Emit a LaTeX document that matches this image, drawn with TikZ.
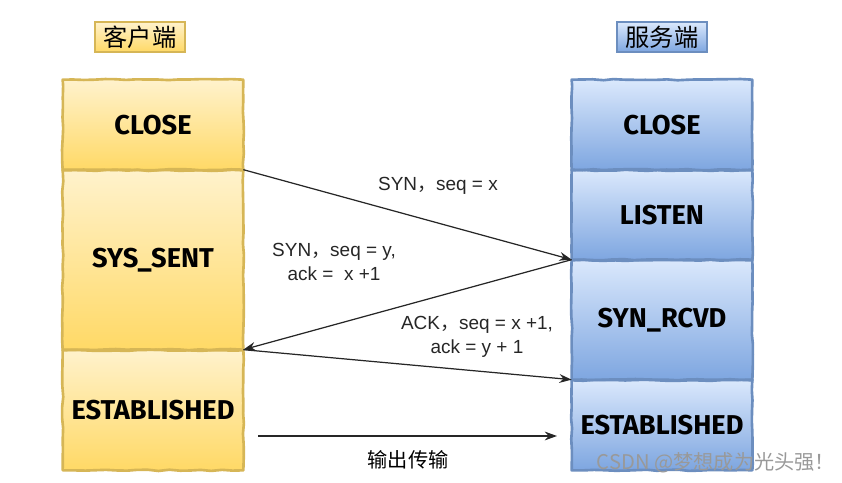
\documentclass[tikz,border=0pt]{standalone}
\usepackage{fontspec}
\setmainfont{Liberation Sans}
\newfontfamily\cjk{Noto Sans CJK SC}
\newfontfamily\statefont{Fira Sans}
\usetikzlibrary{arrows.meta,calc,decorations.pathmorphing}
\pgfmathsetseed{7}
\definecolor{ytop}{HTML}{FFF2CC}
\definecolor{ybot}{HTML}{FFD966}
\definecolor{yline}{HTML}{D6B656}
\definecolor{btop}{HTML}{DAE8FC}
\definecolor{bbot}{HTML}{7EA6E0}
\definecolor{bline}{HTML}{6C8EBF}
\tikzset{
  wobbly/.style={line width=1.5pt, line join=round, decorate, decoration={random steps, segment length=6pt, amplitude=0.35pt}},
  ystate/.style={top color=ytop, bottom color=ybot,
    minimum width=3.6cm, inner sep=0pt, font=\statefont\bfseries\fontsize{15.5}{18}\selectfont},
  bstate/.style={top color=btop, bottom color=bbot,
    minimum width=3.6cm, inner sep=0pt, font=\statefont\bfseries\fontsize{15.5}{18}\selectfont},
  ytitle/.style={draw=yline, line width=0.8pt, top color=ytop, bottom color=ybot,
    minimum width=1.8cm, minimum height=0.6cm, inner sep=0pt, font=\cjk\fontsize{13.8}{15}\selectfont},
  btitle/.style={draw=bline, line width=0.8pt, top color=btop, bottom color=bbot,
    minimum width=1.8cm, minimum height=0.6cm, inner sep=0pt, font=\cjk\fontsize{13.8}{15}\selectfont},
  msg/.style={draw=black!85, line width=0.7pt, -{Stealth[length=7pt,width=5pt]}},
  lbl/.style={font=\fontsize{10.8}{13.5}\selectfont, align=center, text=black!85},
  wmark/.style={font=\cjk\fontsize{11.5}{13}\selectfont}
}
\begin{document}
\begin{tikzpicture}[x=0.02cm,y=-0.02cm]
\useasboundingbox (0,0) rectangle (842,483);
% titles
\node[ytitle] (tc) at (140,37) {客户端};
\node[btitle] (ts) at (662,37) {服务端};
% client states
\node[ystate, minimum height=1.8cm] (lclose) at (153,125) {CLOSE};
\node[ystate, minimum height=3.6cm] (lsent) at (153,260) {SYS\_SENT};
\node[ystate, minimum height=2.4cm] (lest) at (153,410) {ESTABLISHED};
% server states
\node[bstate, minimum height=1.8cm] (rclose) at (662,125) {CLOSE};
\node[bstate, minimum height=1.8cm] (rlisten) at (662,215) {LISTEN};
\node[bstate, minimum height=2.4cm] (rsyn) at (662,320) {SYN\_RCVD};
\node[bstate, minimum height=1.8cm] (rest) at (662,425) {ESTABLISHED};
% wobbly borders
\foreach \n in {lclose,lsent,lest}
  \draw[wobbly, draw=yline] (\n.north west) -- (\n.north east) -- (\n.south east) -- (\n.south west) -- cycle;
\foreach \n in {rclose,rlisten,rsyn,rest}
  \draw[wobbly, draw=bline] (\n.north west) -- (\n.north east) -- (\n.south east) -- (\n.south west) -- cycle;
% messages
\draw[msg] (lsent.north east) -- (rsyn.north west);
\draw[msg] (rsyn.north west) -- (lest.north east);
\draw[msg] (lest.north east) -- (rest.north west);
\coordinate (d1) at (258,436);
\coordinate (d2) at (557,436);
\draw[msg] (d1) -- (d2);
% labels
\node[lbl] (m1) at (438,186) {SYN{\cjk，}seq = x};
\node[lbl] (m2) at (334,262) {SYN{\cjk，}seq = y,\\ ack =\ \ x +1};
\node[lbl] (m3) at (477,337) {ACK{\cjk，}seq = x +1,\\ ack = y + 1};
\node[font=\cjk\fontsize{11.5}{13}\selectfont] (m4) at (408,460) {输出传输};
\node[wmark, text=black!40] (wm) at (716,463) {CSDN @梦想成为光头强！};
\end{tikzpicture}
\end{document}
